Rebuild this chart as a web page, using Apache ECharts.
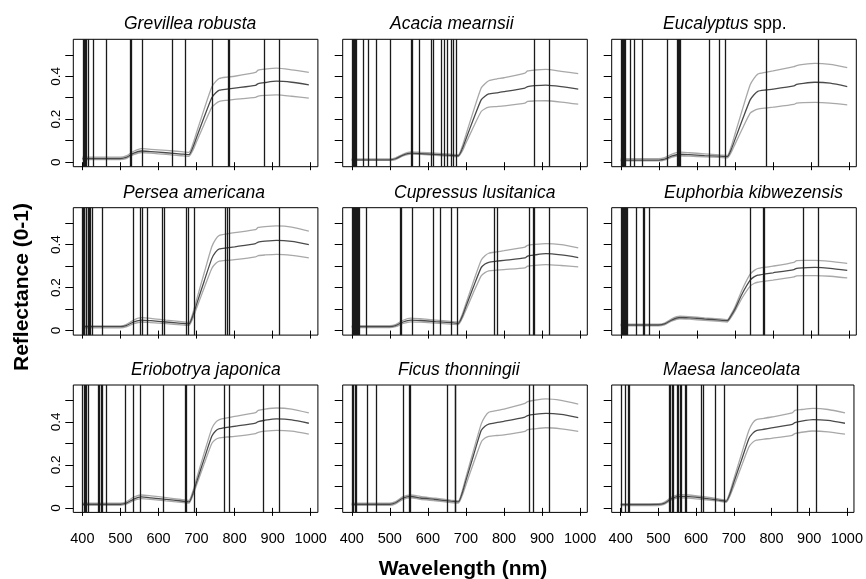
<!DOCTYPE html>
<html>
<head>
<meta charset="utf-8">
<script src="https://cdn.jsdelivr.net/npm/echarts@6/dist/echarts.min.js"></script>
<style>
html,body{margin:0;padding:0;background:#fff;}
#chart{width:866px;height:579px;}
</style>
</head>
<body>
<div id="chart"></div>
<script>
// ---- DATA ----
const species = ["Grevillea robusta","Acacia mearnsii","Eucalyptus spp.","Persea americana","Cupressus lusitanica","Euphorbia kibwezensis","Eriobotrya japonica","Ficus thonningii","Maesa lanceolata"];
const wavelengths = [400,500,515,535,555,580,620,660,680,690,700,720,740,750,760,780,800,855,862,880,910,950,995];
const xTicks = [400,500,600,700,800,900,1000];
const yTicks = [0,0.1,0.2,0.3,0.4,0.5];
const yLabels = [0,0.2,0.4];

const grevilleaMean  = [.017,.017,.022,.042,.052,.049,.044,.038,.035,.067,.115,.21,.30,.322,.335,.34,.345,.358,.366,.371,.377,.372,.36];
const grevilleaUpper = [.023,.023,.029,.051,.063,.06,.055,.049,.046,.083,.138,.247,.35,.375,.39,.396,.40,.418,.428,.433,.438,.43,.418];
const grevilleaLower = [.012,.012,.017,.035,.045,.042,.036,.030,.027,.054,.095,.177,.255,.272,.283,.288,.292,.302,.308,.311,.313,.307,.298];
const grevilleaBands = [402,404,408,411,415,429,464,527,529,558,637,670,740,784,787,879,917];

const acaciaMean  = [.011,.011,.016,.033,.042,.040,.036,.032,.030,.061,.108,.202,.29,.307,.318,.323,.328,.345,.352,.356,.359,.352,.34];
const acaciaUpper = [.015,.015,.02,.038,.048,.046,.042,.037,.035,.073,.128,.24,.345,.365,.379,.387,.393,.415,.425,.429,.432,.423,.412];
const acaciaLower = [.008,.008,.012,.029,.038,.036,.032,.028,.026,.05,.089,.165,.236,.249,.256,.259,.262,.275,.283,.285,.286,.28,.27];
const acaciaBands = [402,404,407,410,413,431,443,464,500,555,559,577,610,614,634,643,651,662,667,674,880,918];

const eucalyptusMean  = [.010,.010,.014,.029,.037,.035,.031,.028,.026,.058,.105,.200,.29,.314,.33,.336,.34,.355,.362,.367,.372,.368,.352];
const eucalyptusUpper = [.016,.016,.021,.038,.047,.044,.039,.034,.032,.072,.13,.248,.36,.39,.41,.418,.425,.445,.45,.455,.46,.455,.44];
const eucalyptusLower = [.006,.006,.01,.023,.03,.028,.025,.022,.02,.045,.083,.158,.228,.24,.247,.252,.256,.269,.275,.277,.278,.275,.267];
const eucalyptusBands = [402,404,407,410,412,425,436,457,522,548,551,554,557,633,660,674,783,918];

const perseaMean  = [.018,.018,.023,.040,.049,.046,.040,.034,.031,.068,.122,.23,.335,.365,.38,.385,.39,.405,.412,.416,.42,.415,.40];
const perseaUpper = [.022,.022,.028,.049,.06,.057,.049,.042,.038,.08,.143,.268,.39,.425,.443,.45,.456,.47,.48,.484,.487,.482,.463];
const perseaLower = [.013,.013,.017,.032,.04,.037,.032,.027,.024,.056,.104,.198,.289,.312,.323,.327,.33,.343,.349,.352,.355,.35,.338];
const perseaBands = [401,403,406,409,411,415,418,422,427,451,534,553,557,571,610,616,674,678,694,775,780,787,917];

const cupressusMean  = [.018,.018,.023,.040,.049,.047,.042,.037,.034,.065,.112,.205,.293,.31,.318,.323,.327,.338,.347,.352,.358,.352,.34];
const cupressusUpper = [.023,.023,.028,.048,.058,.055,.049,.043,.04,.074,.126,.23,.327,.348,.36,.366,.372,.389,.397,.401,.405,.40,.385];
const cupressusLower = [.014,.014,.018,.033,.041,.039,.035,.030,.028,.056,.096,.178,.255,.27,.278,.281,.284,.292,.30,.304,.307,.303,.297];
const cupressusBands = [402,404,407,410,412,415,418,420,437,527,530,559,615,632,662,678,774,782,867,876,880,918];

const euphorbiaMean  = [.026,.026,.031,.05,.061,.059,.054,.049,.046,.07,.10,.175,.235,.25,.258,.264,.269,.284,.29,.292,.294,.29,.28];
const euphorbiaUpper = [.030,.030,.035,.056,.067,.065,.059,.054,.051,.077,.11,.195,.263,.279,.289,.295,.30,.318,.326,.327,.327,.322,.313];
const euphorbiaLower = [.022,.022,.027,.045,.055,.053,.048,.043,.040,.062,.09,.155,.207,.219,.225,.23,.235,.25,.255,.256,.256,.253,.245];
const euphorbiaBands = [402,404,407,410,412,415,418,440,458,462,475,741,774,778,879,918];

const eriobotryaMean  = [.017,.017,.022,.041,.051,.047,.040,.032,.028,.065,.12,.228,.333,.358,.369,.375,.38,.395,.402,.408,.414,.41,.394];
const eriobotryaUpper = [.022,.022,.028,.050,.06,.056,.048,.039,.035,.076,.136,.255,.369,.398,.411,.419,.426,.443,.454,.46,.465,.46,.442];
const eriobotryaLower = [.012,.012,.017,.034,.043,.040,.033,.026,.022,.056,.106,.205,.30,.318,.326,.33,.333,.346,.352,.357,.361,.357,.343];
const eriobotryaBands = [401,404,408,411,415,442,445,449,453,462,512,535,553,613,670,673,693,774,787,875,917];

const ficusMean  = [.017,.017,.024,.046,.053,.046,.039,.031,.028,.068,.128,.245,.36,.38,.39,.397,.403,.423,.43,.435,.44,.435,.42];
const ficusUpper = [.022,.022,.029,.052,.06,.053,.045,.036,.033,.078,.143,.268,.39,.425,.445,.453,.46,.487,.495,.501,.507,.50,.483];
const ficusLower = [.012,.012,.019,.04,.047,.04,.033,.025,.022,.056,.108,.209,.306,.325,.333,.337,.34,.356,.364,.368,.373,.368,.356];
const ficusBands = [402,404,409,411,441,464,536,550,553,651,671,673,866,876,918];

const maesaMean  = [.015,.016,.021,.043,.054,.052,.045,.036,.031,.066,.118,.22,.322,.347,.36,.366,.372,.389,.397,.404,.411,.407,.394];
const maesaUpper = [.020,.020,.026,.05,.062,.06,.052,.042,.036,.075,.134,.248,.36,.395,.411,.417,.423,.442,.454,.458,.463,.458,.442];
const maesaLower = [.011,.011,.016,.037,.047,.045,.039,.031,.026,.056,.10,.192,.283,.305,.315,.32,.324,.338,.346,.352,.358,.354,.343];
const maesaBands = [402,411,419,423,529,532,537,540,550,553,557,561,572,575,614,618,652,675,869,918];

const panels = [
  [grevilleaMean, grevilleaUpper, grevilleaLower, grevilleaBands],
  [acaciaMean, acaciaUpper, acaciaLower, acaciaBands],
  [eucalyptusMean, eucalyptusUpper, eucalyptusLower, eucalyptusBands],
  [perseaMean, perseaUpper, perseaLower, perseaBands],
  [cupressusMean, cupressusUpper, cupressusLower, cupressusBands],
  [euphorbiaMean, euphorbiaUpper, euphorbiaLower, euphorbiaBands],
  [eriobotryaMean, eriobotryaUpper, eriobotryaLower, eriobotryaBands],
  [ficusMean, ficusUpper, ficusLower, ficusBands],
  [maesaMean, maesaUpper, maesaLower, maesaBands]
];

// ---- LAYOUT ----
const FONT = "'Liberation Sans', Arial, Helvetica, sans-serif";
const colLeft = [73.3, 342.7, 611.7];
const rowTop = [39.3, 207.7, 385];
const boxW = 244.6, boxH = 127.4;
const titlePos = [[124,24],[390,24],[663,24],[123,193],[394,193],[664,193],[131,370],[398,370],[663,370]];

const grids = [], xAxes = [], yAxes = [], series = [], graphics = [];
const zip = (xs, ys) => xs.map((x, k) => [x, ys[k]]);

panels.forEach((p, i) => {
  const r = Math.floor(i / 3), c = i % 3;
  grids.push({left: colLeft[c], top: rowTop[r], width: boxW, height: boxH, show: true,
    borderColor: '#000', borderWidth: 1, backgroundColor: 'transparent', containLabel: false});
  xAxes.push({gridIndex: i, type: 'value', min: 376.2, max: 1018.8,
    axisLine: {show: false}, splitLine: {show: false},
    axisTick: {show: true, length: 8, customValues: xTicks, lineStyle: {color: '#000', width: 1}},
    axisLabel: {show: r === 2, customValues: xTicks, margin: 19, fontSize: 14.5, color: '#000', fontFamily: FONT,
      formatter: v => String(Math.round(v))}});
  yAxes.push({gridIndex: i, type: 'value', min: -0.021, max: 0.572,
    axisLine: {show: false}, splitLine: {show: false},
    axisTick: {show: true, length: 8, customValues: yTicks, lineStyle: {color: '#000', width: 1}},
    axisLabel: {show: c === 0, customValues: yLabels, rotate: 90, margin: 10, fontSize: 13.5, color: '#000', fontFamily: FONT,
      formatter: v => (Math.abs(v) < 1e-9 ? '0' : v.toFixed(1))}});
  const common = {type: 'line', xAxisIndex: i, yAxisIndex: i, showSymbol: false, symbol: 'none',
    smooth: 0.2, silent: true, animation: false, emphasis: {disabled: true}};
  series.push(Object.assign({}, common, {data: zip(wavelengths, p[1]), lineStyle: {color: '#a8a8a8', width: 1.3}}));
  series.push(Object.assign({}, common, {data: zip(wavelengths, p[2]), lineStyle: {color: '#a8a8a8', width: 1.3}}));
  series.push(Object.assign({}, common, {data: zip(wavelengths, p[0]), lineStyle: {color: '#4a4a4a', width: 1.3},
    markLine: {symbol: ['none', 'none'], silent: true, animation: false, label: {show: false},
      lineStyle: {color: '#1a1a1a', width: 1.3, type: 'solid'}, emphasis: {disabled: true},
      data: p[3].map(x => ({xAxis: x}))}}));
  const name = species[i];
  let txt;
  if (name.endsWith(' spp.')) txt = '{i|' + name.replace(' spp.', '') + '}{n| spp.}';
  else txt = '{i|' + name + '}';
  graphics.push({type: 'text', x: titlePos[i][0], y: titlePos[i][1], silent: true,
    style: {text: txt, align: 'left', verticalAlign: 'middle',
      rich: {i: {fontStyle: 'italic', fontSize: 17.5, fontFamily: FONT, fill: '#000'},
             n: {fontStyle: 'normal', fontSize: 17.5, fontFamily: FONT, fill: '#000'}}}});
});

graphics.push({type: 'text', x: 22, y: 287, rotation: Math.PI / 2, silent: true,
  style: {text: 'Reflectance (0-1)', align: 'center', verticalAlign: 'middle', fontWeight: 'bold', fontSize: 21, fontFamily: FONT, fill: '#000'}});
graphics.push({type: 'text', x: 463, y: 569, silent: true,
  style: {text: 'Wavelength (nm)', align: 'center', verticalAlign: 'middle', fontWeight: 'bold', fontSize: 21, fontFamily: FONT, fill: '#000'}});

const chart = echarts.init(document.getElementById('chart'), null, {renderer: 'canvas'});
chart.setOption({
  animation: false,
  backgroundColor: '#fff',
  grid: grids, xAxis: xAxes, yAxis: yAxes, series: series, graphic: graphics
});
</script>
</body>
</html>
